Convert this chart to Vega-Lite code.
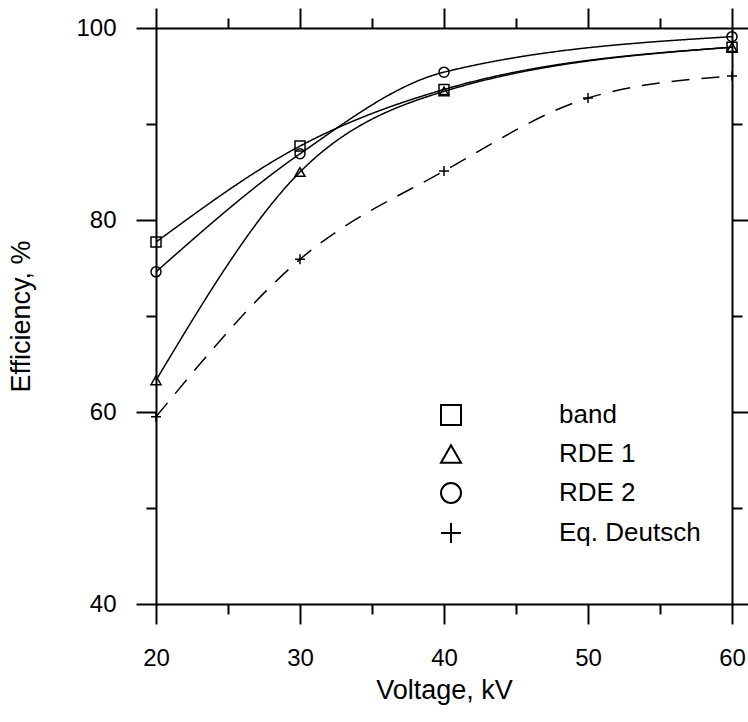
{
  "$schema": "https://vega.github.io/schema/vega-lite/v6.json",
  "width": 576,
  "height": 576,
  "autosize": {"type": "none"},
  "padding": {"left": 156, "top": 28, "right": 16, "bottom": 118},
  "background": "white",
  "config": {
    "view": {"stroke": null},
    "font": "Liberation Sans",
    "axis": {
      "domainColor": "black",
      "domainWidth": 2,
      "tickColor": "black",
      "tickWidth": 2,
      "grid": false,
      "labelColor": "black",
      "labelFontSize": 24,
      "titleFontSize": 27,
      "titleFontWeight": "normal",
      "titleColor": "black",
      "labelFlush": false,
      "labelOverlap": false
    }
  },
  "data": {
    "values": [
      {"series": "band", "voltage": 20, "efficiency": 77.7},
      {"series": "band", "voltage": 30, "efficiency": 87.7},
      {"series": "band", "voltage": 40, "efficiency": 93.6},
      {"series": "band", "voltage": 60, "efficiency": 98.0},
      {"series": "RDE 1", "voltage": 20, "efficiency": 63.3},
      {"series": "RDE 1", "voltage": 30, "efficiency": 85.0},
      {"series": "RDE 1", "voltage": 40, "efficiency": 93.4},
      {"series": "RDE 1", "voltage": 60, "efficiency": 98.0},
      {"series": "RDE 2", "voltage": 20, "efficiency": 74.6},
      {"series": "RDE 2", "voltage": 30, "efficiency": 86.9},
      {"series": "RDE 2", "voltage": 40, "efficiency": 95.4},
      {"series": "RDE 2", "voltage": 60, "efficiency": 99.1},
      {"series": "Eq. Deutsch", "voltage": 20, "efficiency": 59.5},
      {"series": "Eq. Deutsch", "voltage": 30, "efficiency": 75.9},
      {"series": "Eq. Deutsch", "voltage": 40, "efficiency": 85.1},
      {"series": "Eq. Deutsch", "voltage": 50, "efficiency": 92.7},
      {"series": "Eq. Deutsch", "voltage": 60, "efficiency": 95.0}
    ]
  },
  "layer": [
    {
      "mark": {"type": "line", "interpolate": "monotone", "strokeWidth": 1.5, "color": "black"},
      "encoding": {
        "x": {
          "field": "voltage", "type": "quantitative",
          "scale": {"domain": [20, 60], "nice": false, "zero": false},
          "axis": {
            "orient": "bottom",
            "values": [20, 25, 30, 35, 40, 45, 50, 55, 60],
            "tickSize": {"condition": {"test": "datum.value % 10 === 0", "value": 20}, "value": 10},
            "labelExpr": "datum.value % 10 === 0 ? datum.label : ''",
            "labelPadding": 22,
            "title": "Voltage, kV",
            "titlePadding": 7
          }
        },
        "y": {
          "field": "efficiency", "type": "quantitative",
          "scale": {"domain": [40, 100], "nice": false, "zero": false},
          "axis": {
            "orient": "left",
            "values": [40, 50, 60, 70, 80, 90, 100],
            "tickSize": {"condition": {"test": "datum.value % 20 === 0", "value": 20}, "value": 10},
            "labelExpr": "datum.value % 20 === 0 ? datum.label : ''",
            "labelPadding": 20,
            "title": "Efficiency, %",
            "titlePadding": 40
          }
        },
        "detail": {"field": "series", "type": "nominal"},
        "strokeDash": {
          "condition": {"test": "datum.series === 'Eq. Deutsch'", "value": [18, 12]},
          "value": [1, 0]
        }
      }
    },
    {
      "mark": {"type": "point", "filled": false, "color": "black", "strokeWidth": 1.5, "size": 100, "opacity": 1},
      "encoding": {
        "x": {
          "field": "voltage", "type": "quantitative",
          "axis": {
            "orient": "top",
            "values": [20, 25, 30, 35, 40, 45, 50, 55, 60],
            "tickSize": {"condition": {"test": "datum.value % 10 === 0", "value": 20}, "value": 10},
            "labels": false,
            "title": null
          }
        },
        "y": {
          "field": "efficiency", "type": "quantitative",
          "axis": {
            "orient": "right",
            "values": [40, 50, 60, 70, 80, 90, 100],
            "tickSize": {"condition": {"test": "datum.value % 20 === 0", "value": 20}, "value": 10},
            "labels": false,
            "title": null
          }
        },
        "shape": {
          "field": "series", "type": "nominal",
          "scale": {"domain": ["band", "RDE 1", "RDE 2", "Eq. Deutsch"], "range": ["square", "triangle-up", "circle", "M-1,0H1M0,-1V1"]},
          "legend": {
            "orient": "none",
            "legendX": 282,
            "legendY": 374,
            "title": null,
            "padding": 0,
            "symbolSize": 400,
            "symbolStrokeColor": "black",
            "symbolFillColor": "transparent",
            "symbolStrokeWidth": 2,
            "labelFontSize": 26,
            "labelColor": "black",
            "labelOffset": 95,
            "rowPadding": 12
          }
        }
      }
    }
  ],
  "resolve": {"axis": {"x": "independent", "y": "independent"}}
}
